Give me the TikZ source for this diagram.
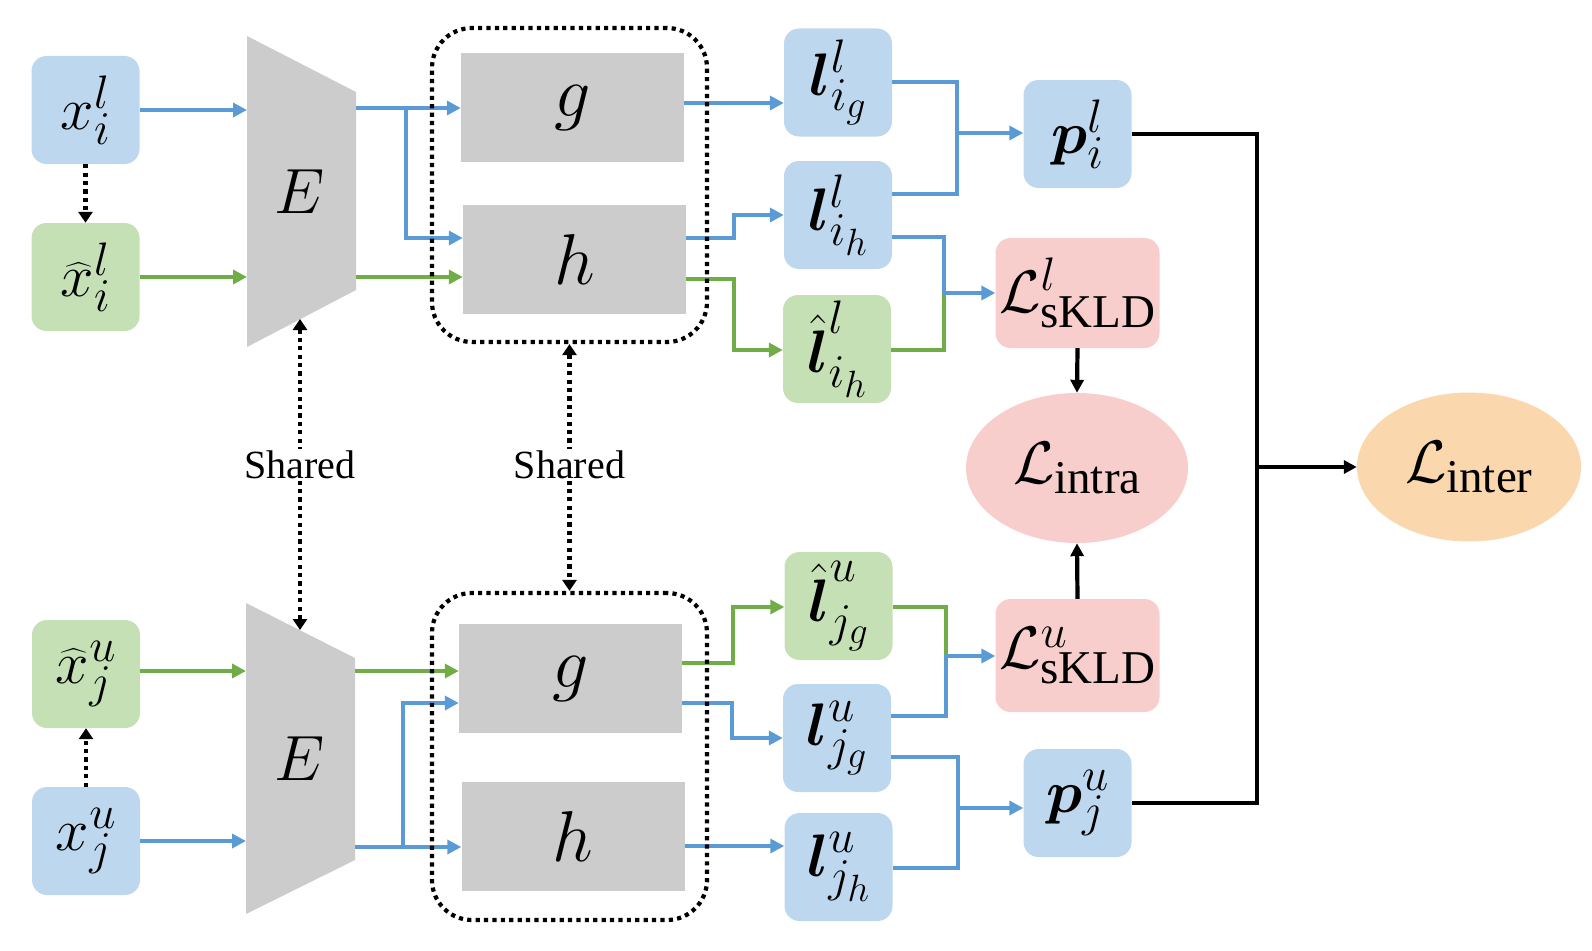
\RequirePackage{fix-cm}
\documentclass[tikz,border=0pt]{standalone}
\usepackage{amsmath}
\usepackage{fontspec}
\setmainfont{Liberation Serif}
\usetikzlibrary{arrows.meta,shapes.geometric}
\DeclareMathSizes{60}{60}{47}{38}
\definecolor{bfill}{HTML}{BDD7EE}
\definecolor{gfill}{HTML}{C5E0B4}
\definecolor{pfill}{HTML}{F8CECC}
\definecolor{ofill}{HTML}{FAD7AC}
\definecolor{grayfill}{HTML}{CCCCCC}
\definecolor{bline}{HTML}{5B9BD5}
\definecolor{gline}{HTML}{70AD47}
\begin{document}
\begin{tikzpicture}[x=1pt,y=-1pt,
  bigm/.style={font=\fontsize{60}{70}\selectfont},
  box/.style={rounded corners=15pt, minimum width=108pt, minimum height=108pt, inner sep=0pt, bigm},
  bbox/.style={box, fill=bfill},
  gbox/.style={box, fill=gfill},
  pbox/.style={rounded corners=15pt, fill=pfill, minimum width=164pt, minimum height=110pt, inner sep=0pt, bigm},
  graybox/.style={fill=grayfill, minimum width=223pt, minimum height=109pt, inner sep=0pt, font=\fontsize{72}{80}\selectfont},
  ellbox/.style={ellipse, minimum width=222pt, minimum height=150pt, inner sep=0pt, bigm},
  bln/.style={draw=bline, line width=4.2pt},
  gln/.style={draw=gline, line width=4.2pt},
  bl/.style={bln, -{Triangle[length=14pt,width=14pt]}},
  gl/.style={gln, -{Triangle[length=14pt,width=14pt]}},
  kln/.style={draw=black, line width=4.2pt},
  kl/.style={kln, -{Triangle[length=13pt,width=13pt]}},
  dotln/.style={draw=black, line width=4.2pt, dash pattern=on 4.2pt off 4.2pt},
  dotarr/.style={dotln, -{Triangle[length=11pt,width=14pt]}},
  dotboth/.style={dotln, {Triangle[length=11pt,width=14pt]}-{Triangle[length=11pt,width=14pt]}},
  dotbox/.style={dotln, rounded corners=40pt, inner sep=0pt},
  sharedlbl/.style={fill=white, inner sep=2pt, font=\fontsize{40}{48}\selectfont}
]
\useasboundingbox (0,0) rectangle (1592,950);

% ---------- upper branch ----------
\node[bbox] (xil) at (85.5,110) {$x_i^l$};
\node[gbox] (hxil) at (85.5,277) {$\widehat{x}_i^l$};
\fill[grayfill] (247,36) -- (356,92) -- (356,290) -- (247,347) -- cycle;
\node[font=\fontsize{64}{70}\selectfont] (E1) at (300,192) {$E$};
\coordinate (E1in) at (247,0);
\coordinate (E1s) at (300,319);

\node[graybox] (g1) at (572.5,107.5) {$g$};
\node[graybox] (h1) at (574.5,259.5) {$h$};

\node[bbox] (lig) at (838,82.5) {$\boldsymbol{l}_{i_g}^l$};
\node[bbox] (lih) at (838,215) {$\boldsymbol{l}_{i_h}^l$};
\node[gbox] (hlih) at (837,349) {$\hat{\boldsymbol{l}}_{i_h}^l$};
\node[bbox] (pil) at (1077.5,134) {$\boldsymbol{p}_i^l$};
\node[pbox] (Lsl) at (1077.5,293) {$\mathcal{L}_{\mathrm{sKLD}}^l$};

% ---------- losses ----------
\node[ellbox, fill=pfill] (Lintra) at (1077,468) {$\mathcal{L}_{\mathrm{intra}}$};
\node[ellbox, fill=ofill, minimum width=224pt, minimum height=149pt] (Linter) at (1469,467) {$\mathcal{L}_{\mathrm{inter}}$};

% ---------- lower branch ----------
\node[gbox] (hxju) at (86,674) {$\widehat{x}_j^u$};
\node[bbox] (xju) at (86,841) {$x_j^u$};
\fill[grayfill] (246,603) -- (355,658) -- (355,860) -- (246,914) -- cycle;
\node[font=\fontsize{64}{70}\selectfont] (E2) at (300,759) {$E$};
\coordinate (E2in) at (246,0);
\coordinate (E2n) at (300,630);

\node[graybox] (g2) at (570.5,678.5) {$g$};
\node[graybox] (h2) at (573,836.5) {$h$};

\node[gbox] (hljg) at (838.5,606) {$\hat{\boldsymbol{l}}_{j_g}^u$};
\node[bbox] (ljg) at (837,738) {$\boldsymbol{l}_{j_g}^u$};
\node[bbox] (ljh) at (838.5,867) {$\boldsymbol{l}_{j_h}^u$};
\node[pbox, minimum height=113pt] (Lsu) at (1077.5,655.5) {$\mathcal{L}_{\mathrm{sKLD}}^u$};
\node[bbox] (pju) at (1077.5,803) {$\boldsymbol{p}_j^u$};

% ---------- upper connectors ----------
\draw[bl] (xil.east) -- (xil.east -| E1in);
\draw[gl] (hxil.east) -- (hxil.east -| E1in);
\draw[dotarr] (xil.south) -- (hxil.north);

\draw[bl] (356,108) -- (g1.west |- 0,108);
\draw[bl] (406,108) |- (h1.west |- 0,238);
\draw[gl] (356,277) -- (h1.west |- 0,277);

\draw[bl] (g1.east |- 0,103) -- (lig.west |- 0,103);
\draw[bl] (h1.east |- 0,238) -- (734,238) -- (734,215) -- (lih.west |- 0,215);
\draw[gl] (h1.east |- 0,279) -- (734,279) -- (734,350) -- (hlih.west |- 0,350);

\draw[bln] (lig.east |- 0,82) -- (957,82) -- (957,194) -- (lih.east |- 0,194);
\draw[bl] (957,133) -- (pil.west |- 0,133);
\draw[gln] (hlih.east |- 0,350) -- (944,350) -- (944,293);
\draw[bln] (lih.east |- 0,237) -- (944,237) -- (944,293);
\draw[bl] (944,293) -- (Lsl.west);

% ---------- lower connectors ----------
\draw[gl] (hxju.east |- 0,671) -- (E2in |- 0,671);
\draw[bl] (xju.east) -- (xju.east -| E2in);
\draw[dotarr] (xju.north) -- (hxju.south);

\draw[gl] (355,671) -- (g2.west |- 0,671);
\draw[bl] (355,847) -- (h2.west |- 0,847);
\draw[bl] (403,847) |- (g2.west |- 0,703);

\draw[gl] (g2.east |- 0,663) -- (733,663) -- (733,607) -- (hljg.west |- 0,607);
\draw[bl] (g2.east |- 0,703) -- (732,703) -- (732,738) -- (ljg.west |- 0,738);
\draw[bl] (h2.east |- 0,846) -- (ljh.west |- 0,846);

\draw[gln] (hljg.east |- 0,607) -- (946,607) -- (946,656);
\draw[bln] (ljg.east |- 0,716) -- (946,716) -- (946,656);
\draw[bl] (946,656) -- (Lsu.west |- 0,656);
\draw[bln] (ljg.east |- 0,757) -- (958,757) -- (958,868) -- (ljh.east |- 0,868);
\draw[bl] (958,808) -- (pju.west |- 0,808);

% ---------- loss connectors ----------
\draw[kl] (Lsl.south) -- (Lintra.north);
\draw[kl] (Lsu.north) -- (Lintra.south);
\draw[kln] (pil.east) -- (1257,134) -- (1257,803) -- (pju.east);
\draw[kl] (1257,467) -- (Linter.west);

% ---------- dotted groups and sharing ----------
\node[dotbox, draw, minimum width=275pt, minimum height=314pt] (D1) at (569.5,185) {};
\node[dotbox, draw, minimum width=275pt, minimum height=327pt] (D2) at (569.5,756.5) {};
\draw[dotboth] (E1s) -- (E2n);
\draw[dotboth] (D1.south) -- (D2.north);
\node[sharedlbl] (sh1) at (300,465) {Shared};
\node[sharedlbl] (sh2) at (569.5,465) {Shared};
\end{tikzpicture}
\end{document}
